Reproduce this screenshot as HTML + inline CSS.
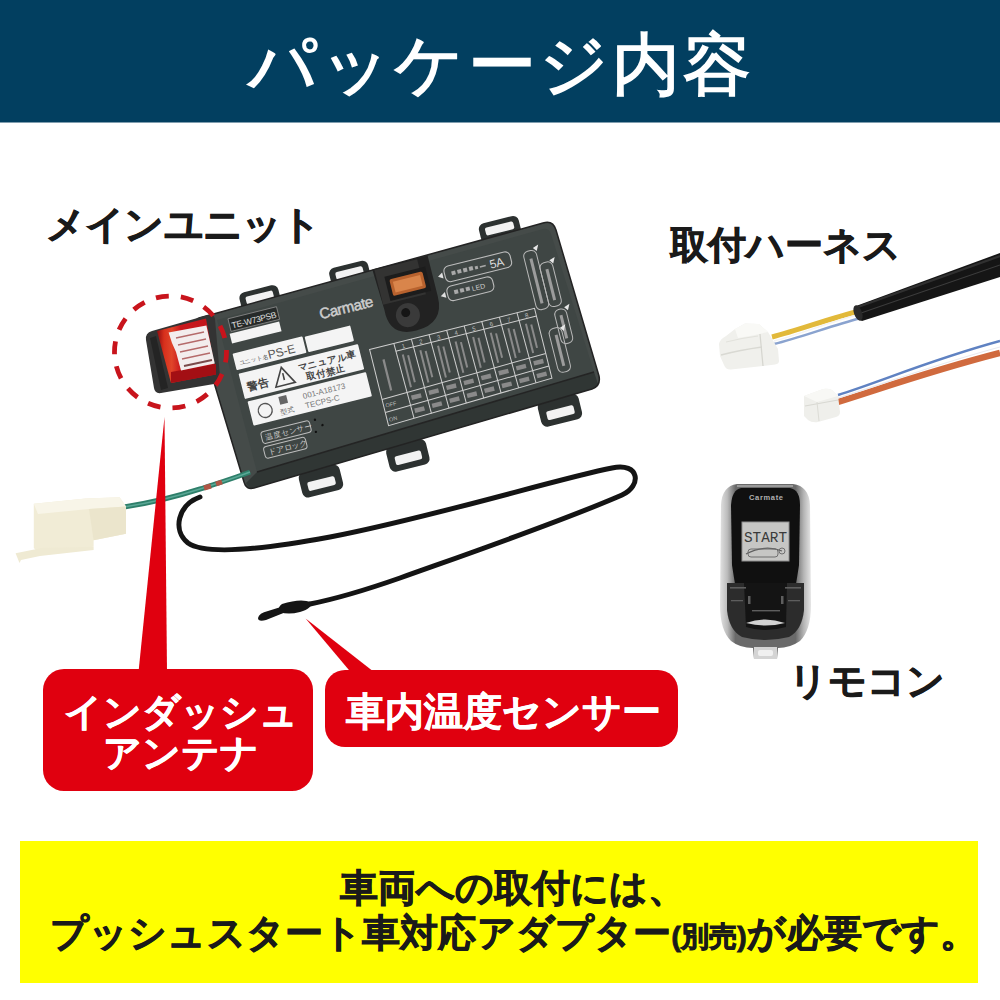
<!DOCTYPE html>
<html><head><meta charset="utf-8"><title>パッケージ内容</title>
<style>
html,body{margin:0;padding:0;width:1000px;height:1000px;overflow:hidden;background:#fff}
body{position:relative;font-family:"Liberation Sans",sans-serif}
svg{position:absolute;left:0;top:0}
.t{position:absolute;white-space:nowrap;line-height:1}
.b{font-weight:bold;color:#1a1a1a;-webkit-text-stroke:0.8px #1a1a1a}
.w{color:#fff;font-weight:bold;-webkit-text-stroke:0.5px #fff}
</style></head><body>
<svg width="1000" height="1000" viewBox="0 0 1000 1000">
<!-- header -->
<rect x="0" y="0" width="1000" height="122.5" fill="#023f60"/>

<!-- harness cable -->
<g id="harness">
  <!-- red/blue wires -->
  <path d="M838,402 C880,389 930,371 1000,353" fill="none" stroke="#d06a3e" stroke-width="6.5"/>
  <path d="M838,395 C880,382 930,360 1000,341" fill="none" stroke="#5f82c2" stroke-width="2.6"/>
  <path d="M838,398 C880,385 930,366 1000,347" fill="none" stroke="#e9e9ef" stroke-width="1.2"/>
  <!-- connector 2 -->
  <path d="M804,396 L823,389 Q828,388 832,390 L838,396 L840,412 Q840,416 836,417 L818,422 Q812,423 808,420 L804,416 Z" fill="#efefeb"/>
  <path d="M804,396 L823,389 Q828,388 832,390 L838,396 L817,402 Z" fill="#f8f8f5"/>
  <path d="M805,406 L838,400" stroke="#d8d8d2" stroke-width="1.2"/>
  <path d="M817,402 L819,421" stroke="#dcdcd6" stroke-width="1"/>
  <!-- yellow / blue wires -->
  <path d="M772,337 C800,330 830,318 860,311" fill="none" stroke="#e2b93a" stroke-width="5"/>
  <path d="M774,344 C800,338 830,326 861,318" fill="none" stroke="#8aa3cf" stroke-width="2.5"/>
  <path d="M774,341 C800,334 830,322 860,314" fill="none" stroke="#f4f4f4" stroke-width="1.3"/>
  <!-- black tube -->
  <path d="M856,306 L1000,253 L1000,277 L862,321 Q852,318 856,306 Z" fill="#151515"/>
  <path d="M858,307 L1000,256" stroke="#303030" stroke-width="2.2"/>
  <path d="M861,313 L1000,265" stroke="#3c3c3c" stroke-width="1.1"/>
  <ellipse cx="858" cy="313" rx="4" ry="8" transform="rotate(-20 858 313)" fill="#2a2a2a"/>
  <!-- connector 1 -->
  <path d="M719,344 Q720,339 726,336 L735,329 L745,323.5 L759,324 L768,332 L778,349 L779,361 Q779,364 775,364.5 L763,366 L731,369.5 Q726,370 724,365 L720,356 Z" fill="#f0f0ec"/>
  <path d="M735,329 L745,323.5 L759,324 L768,332 L750,336 L738,338 Z" fill="#f9f9f6"/>
  <path d="M721,355 Q740,350 762,347" fill="none" stroke="#d9d9d3" stroke-width="1.4"/>
  <path d="M760,334 L763,366" stroke="#d6d6d0" stroke-width="1.3"/>
  <path d="M726,342 Q742,338 758,336" fill="none" stroke="#e2e2dc" stroke-width="1"/>
</g>

<!-- main unit -->
<g id="unit">
  <!-- top tabs (global via rotated group) -->
  <g transform="translate(218,312) rotate(-14)" fill="#2c3130">
    <rect x="24" y="-13" width="40" height="20" rx="6"/>
    <rect x="117" y="-15" width="40" height="20" rx="6"/>
    <rect x="273" y="-22" width="41" height="20" rx="6"/>
    <rect x="38" y="176" width="42" height="26" rx="6"/>
    <rect x="129" y="172" width="41" height="26" rx="6"/>
    <rect x="287" y="165" width="42" height="26" rx="6"/>
  </g>
  <g transform="translate(218,312) rotate(-14)" fill="#f2f2f2">
    <rect x="30" y="-8" width="28" height="8" rx="2"/>
    <rect x="123" y="-10" width="28" height="8" rx="2"/>
    <rect x="279" y="-17" width="29" height="8" rx="2"/>
    <rect x="45" y="187" width="28" height="9" rx="2"/>
    <rect x="136" y="183" width="27" height="9" rx="2"/>
    <rect x="294" y="176" width="28" height="9" rx="2"/>
  </g>
  <path d="M199,318 L543,223 Q553,220 556,230 L599,376 Q601,386 592,389 L254,488 Q246,490 244,482 L197,326 Q195,319 199,318 Z" fill="#454b49"/>
  <path d="M217,320 L543,229 Q549,228 551,234 L594,372 L257,472 Z" fill="#3f4644"/>
  <path d="M257,472 L594,372 L598,384 Q598,387 592,389 L254,488 Q248,489 246,483 Z" fill="#303634"/>
  <path d="M257,472 L594,372" stroke="#242424" stroke-width="1.6"/>
  <path d="M199,318 L543,223 Q553,220 556,230 L599,376 Q601,386 592,389 L254,488 Q246,490 244,482 L197,326 Q195,319 199,318 Z" fill="none" stroke="#232323" stroke-width="1.5"/>
  <g transform="translate(218,312) rotate(-14)">
    <!-- labels -->
    <rect x="8" y="9" width="50" height="13" fill="#262a29" stroke="#8a8a8a" stroke-width="0.8"/>
    <text x="10" y="19.5" font-size="8.5" fill="#e0e0e0" font-family="Liberation Sans" textLength="46">TE-W73PSB</text>
    <rect x="6" y="24" width="51" height="10" fill="#f4f4f4"/>
    <rect x="4" y="44" width="72" height="17" rx="1" fill="#f4f4f4"/>
    <text x="8" y="57" font-size="6" fill="#555">ユニット名</text>
    <text x="38" y="58" font-size="12" fill="#555" font-family="Liberation Sans">PS-E</text>
    <rect x="78" y="45" width="47" height="16" rx="1" fill="#f4f4f4"/>
    <rect x="5" y="65" width="123" height="26" rx="1" fill="#f4f4f4"/>
    <text x="10" y="84" font-size="11" font-weight="bold" fill="#444">警告</text>
    <polygon points="48,69 38,87 58,87" fill="none" stroke="#444" stroke-width="1.6"/>
    <rect x="47.2" y="75" width="1.6" height="7" fill="#444"/>
    <text x="64" y="77" font-size="9.5" fill="#444" font-weight="bold">マニュアル車</text>
    <text x="70" y="88" font-size="9.5" fill="#444" font-weight="bold">取付禁止</text>
    <rect x="7" y="94" width="122" height="25" rx="1" fill="#f4f4f4"/>
    <circle cx="22" cy="107" r="7" fill="none" stroke="#555" stroke-width="1.3"/>
    <rect x="38" y="97" width="8" height="8" fill="#666"/>
    <text x="36" y="115" font-size="7" fill="#666">型式</text>
    <text x="62" y="105" font-size="8" fill="#777" font-family="Liberation Sans">001-A18173</text>
    <text x="62" y="115" font-size="8" fill="#777" font-family="Liberation Sans">TECPS-C</text>
    <!-- carmate -->
    <text x="98" y="32" font-size="15" fill="#cdcdcd" stroke="#cdcdcd" stroke-width="0.5" font-family="Liberation Sans" textLength="55">Carmate</text>
    <!-- bottom left small labels -->
    <rect x="12" y="127" width="50" height="12" rx="3" fill="none" stroke="#bdbdbd" stroke-width="1"/>
    <text x="16" y="136" font-size="7.5" fill="#cfcfcf">温度センサー</text>
    <rect x="11" y="142" width="43" height="12" rx="3" fill="none" stroke="#bdbdbd" stroke-width="1"/>
    <text x="15" y="151" font-size="8" fill="#cfcfcf">ドアロック</text>
    <circle cx="68" cy="128" r="1.2" fill="#111"/><circle cx="74" cy="135" r="1.2" fill="#111"/><circle cx="66" cy="140" r="1.2" fill="#111"/>
    <!-- fuse housing -->
    <path d="M160,-4 L217,-4 L217,38 Q217,66 188,66 Q160,66 162,38 Z" fill="#222"/>
    <rect x="162" y="-3" width="44" height="36" fill="#333332"/>
    <rect x="170" y="6" width="42" height="25" fill="#1c1c1c"/>
    <rect x="174" y="10" width="34" height="17" rx="2" fill="#b8622e"/>
    <rect x="177" y="13" width="28" height="11" fill="#d9854b"/>
    <circle cx="183.5" cy="49" r="12" fill="#3a3a3a"/>
    <circle cx="182" cy="46" r="4.5" fill="#151515"/>
    <!-- fuse label -->
    <rect x="229" y="11" width="68" height="16" rx="5" fill="none" stroke="#bcbcbc" stroke-width="1.1"/>
    <g fill="#a9a9a9"><rect x="236" y="17" width="4" height="4"/><rect x="242" y="17" width="4" height="4"/><rect x="248" y="17" width="4" height="4"/><rect x="254" y="17" width="4" height="4"/><rect x="260" y="18" width="3" height="3"/><rect x="265" y="19" width="6" height="1.5"/></g>
    <text x="275" y="24" font-size="12" fill="#dcdcdc" font-family="Liberation Sans">5A</text>
    <rect x="227" y="31" width="47" height="15" rx="5" fill="none" stroke="#bcbcbc" stroke-width="1.1"/>
    <g fill="#a9a9a9"><rect x="234" y="36" width="4" height="4"/><rect x="240" y="36" width="4" height="4"/><rect x="246" y="36" width="4" height="4"/></g>
    <text x="252" y="41.5" font-size="7" fill="#cfcfcf" font-family="Liberation Sans">LED</text>
    <polygon points="222,19 227,16 227,22" fill="#e0e0e0"/>
    <polygon points="220,38.5 225,35.5 225,41.5" fill="#e0e0e0"/>
    <!-- right vertical labels -->
    <g fill="none" stroke="#b8b8b8" stroke-width="1">
    <rect x="310" y="16" width="13" height="60" rx="5"/>
    <rect x="323" y="31" width="13" height="45" rx="5"/>
    <rect x="326" y="80" width="12" height="35" rx="5"/>
    <rect x="316" y="97" width="13" height="45" rx="5"/>
    </g>
    <g fill="#9c9c9c">
    <rect x="315" y="24" width="3" height="46"/><rect x="328" y="38" width="3" height="32"/>
    <rect x="330.5" y="86" width="3" height="24"/><rect x="321" y="104" width="3" height="32"/>
    </g>
    <g fill="#e8e8e8">
    <polygon points="321,14 327,12 324,18"/><polygon points="334,30 340,28 337,34"/>
    <polygon points="337,79 343,77 340,83"/><polygon points="328,98 334,96 331,102"/>
    </g>
    <!-- grid table -->
    <g fill="none" stroke="#cfcfcf" stroke-width="1">
      <polygon points="138,73 308,73 308,145 138,151.5"/>
      <line x1="163" y1="73" x2="164.5" y2="150.5"/>
      <line x1="181.1" y1="73" x2="182.6" y2="149.9"/>
      <line x1="199.3" y1="73" x2="200.8" y2="149.2"/>
      <line x1="217.4" y1="73" x2="218.9" y2="148.5"/>
      <line x1="235.5" y1="73" x2="237.0" y2="147.8"/>
      <line x1="253.6" y1="73" x2="255.1" y2="147.1"/>
      <line x1="271.8" y1="73" x2="273.3" y2="146.4"/>
      <line x1="289.9" y1="73" x2="291.4" y2="145.7"/>
      <line x1="163" y1="81.0" x2="308" y2="81"/>
      <line x1="138" y1="124.5" x2="308" y2="119.5"/>
      <line x1="138" y1="138.0" x2="308" y2="132.5"/>
    </g>
    <g fill="#bdbdbd" font-size="6" font-family="Liberation Sans">
      <text x="170.0" y="80">1</text>
      <text x="188.1" y="80">2</text>
      <text x="206.3" y="80">3</text>
      <text x="224.4" y="80">4</text>
      <text x="242.5" y="80">5</text>
      <text x="260.6" y="80">6</text>
      <text x="278.8" y="80">7</text>
      <text x="296.9" y="80">8</text>
      <text x="140" y="133.4" font-size="5.5">OFF</text><text x="140" y="147.9" font-size="5.5">ON</text>
    </g>
    <g fill="#8a8a8a">
      <rect x="148" y="86" width="2.2" height="32"/>
      <rect x="168.0" y="86" width="2" height="33.8"/><rect x="173.0" y="88" width="2" height="27.8"/>
      <rect x="167.0" y="127.8" width="10" height="4.5"/><rect x="167.0" y="141.2" width="10" height="4.5"/>
      <rect x="186.1" y="86" width="2" height="33.2"/><rect x="191.1" y="88" width="2" height="27.2"/>
      <rect x="185.1" y="127.2" width="10" height="4.5"/><rect x="185.1" y="140.6" width="10" height="4.5"/>
      <rect x="204.3" y="86" width="2" height="32.7"/><rect x="209.3" y="88" width="2" height="26.7"/>
      <rect x="203.3" y="126.7" width="10" height="4.5"/><rect x="203.3" y="140.0" width="10" height="4.5"/>
      <rect x="222.4" y="86" width="2" height="32.2"/><rect x="227.4" y="88" width="2" height="26.2"/>
      <rect x="221.4" y="126.2" width="10" height="4.5"/><rect x="221.4" y="139.4" width="10" height="4.5"/>
      <rect x="240.5" y="86" width="2" height="31.6"/><rect x="245.5" y="88" width="2" height="25.6"/>
      <rect x="239.5" y="125.6" width="10" height="4.5"/><rect x="239.5" y="138.8" width="10" height="4.5"/>
      <rect x="258.6" y="86" width="2" height="31.1"/><rect x="263.6" y="88" width="2" height="25.1"/>
      <rect x="257.6" y="125.1" width="10" height="4.5"/><rect x="257.6" y="138.3" width="10" height="4.5"/>
      <rect x="276.8" y="86" width="2" height="30.6"/><rect x="281.8" y="88" width="2" height="24.6"/>
      <rect x="275.8" y="124.6" width="10" height="4.5"/><rect x="275.8" y="137.7" width="10" height="4.5"/>
      <rect x="294.9" y="86" width="2" height="30.0"/><rect x="299.9" y="88" width="2" height="24.0"/>
      <rect x="293.9" y="124.0" width="10" height="4.5"/><rect x="293.9" y="137.1" width="10" height="4.5"/>
    </g>
  </g>
</g>

<!-- antenna + circle -->
<g id="antenna">
  <defs>
    <linearGradient id="antred" x1="157" y1="0" x2="216" y2="0" gradientUnits="userSpaceOnUse">
      <stop offset="0" stop-color="#8e0c10"/><stop offset="0.12" stop-color="#d8301c"/><stop offset="0.25" stop-color="#e0452a"/><stop offset="0.4" stop-color="#c9181c"/><stop offset="1" stop-color="#c0141a"/>
    </linearGradient>
  </defs>
  <path d="M146,340 Q145,333 152,331 L208,315 Q214,314 215,319 L220,377 Q220,383 214,384 L161,393 Q155,394 154,388 Z" fill="#333"/>
  <path d="M150,338 L156,336 L168,388 L161,390 Z" fill="#242424"/>
  <polygon points="157,331 206,318.6 216,374.6 171,383" fill="url(#antred)"/>
  <polygon points="171,372 216,364 216,374.6 171,383" fill="#a30f14"/>
  <polygon points="168.6,332.6 206.4,325.6 214.8,363.4 181,370.4 176,352 172,343" fill="#f3eded"/>
  <g stroke="#b56a6a" stroke-width="1.3">
    <line x1="176" y1="338" x2="204" y2="332"/><line x1="178" y1="345" x2="206" y2="339"/>
    <line x1="180" y1="352" x2="208" y2="346"/><line x1="182" y1="359" x2="210" y2="353"/>
    <line x1="184" y1="366" x2="212" y2="360" stroke="#7a4a4a" stroke-width="1.8"/>
  </g>
  <circle cx="170.5" cy="352" r="56" fill="none" stroke="#c8141c" stroke-width="4.8" stroke-dasharray="13 12.13" stroke-dashoffset="2.6"/>
</g>

<!-- sensor cable -->
<path d="M200,497 C178,505 172,530 188,543 C205,555 260,550 330,537 C430,518 560,478 612,468 C640,462 642,486 622,495 C560,522 470,553 400,578 C360,592 330,600 310,604" fill="none" stroke="#141414" stroke-width="5" stroke-linecap="round"/>
<path d="M282,604 Q300,598 311,602 Q313,608 300,612 Q288,615 280,612 Q277,607 282,604 Z" fill="#151515"/>
<path d="M258,618 Q259,613 268,611 L284,606 L286,612 L266,620 Q258,622 258,618 Z" fill="#151515"/>
<!-- green antenna wire -->
<path d="M124,507 C150,503 175,497 200,489 C215,484 232,479 250,472" fill="none" stroke="#2e7f6a" stroke-width="5"/>
<path d="M124,507 C150,503 175,497 200,489 C215,484 232,479 250,472" fill="none" stroke="#5aa896" stroke-width="1.5"/>
<path d="M204,488 L211,486 M216,484 L222,482" stroke="#b05545" stroke-width="5"/>
<!-- connector (white) -->
<polygon points="33.8,503.8 85.8,498.6 119.6,497.3 126,506.4 126,533.7 93.6,540.2 93.6,546.7 39,553.2 33.8,548" fill="#f1ecd6"/>
<polygon points="33.8,503.8 85.8,498.6 119.6,497.3 126,506.4 89,509 38,514" fill="#f8f5e8"/>
<polygon points="89,509 126,506.4 126,533.7 93.6,540.2" fill="#ebe5cc"/>
<polygon points="15.6,553.2 41.6,548 93.6,546.7 93.6,550 40,556 21,560 19.5,563" fill="#efead3"/>
<!-- remote -->
<g id="remote">
  <defs>
    <linearGradient id="rsh" x1="720" y1="0" x2="811" y2="0" gradientUnits="userSpaceOnUse">
      <stop offset="0" stop-color="#e2e2e2"/><stop offset="0.08" stop-color="#bcbcbc"/><stop offset="0.17" stop-color="#6a6a6a"/>
      <stop offset="0.83" stop-color="#6a6a6a"/><stop offset="0.92" stop-color="#b5b5b5"/><stop offset="1" stop-color="#e6e6e6"/>
    </linearGradient>
    <linearGradient id="rlip" x1="0" y1="620" x2="0" y2="648" gradientUnits="userSpaceOnUse">
      <stop offset="0" stop-color="#5a5a5a"/><stop offset="0.5" stop-color="#a0a0a0"/><stop offset="1" stop-color="#d6d6d6"/>
    </linearGradient>
  </defs>
  <path d="M737,484 L793,484 Q809,486 810,505 L811,605 Q811,630 800,641 Q790,648 778,648 L777,659 L754,659 L753,648 Q740,648 731,641 Q720,630 720,605 L721,505 Q722,486 737,484 Z" fill="url(#rsh)"/>
  <path d="M737,486 L793,486" stroke="#9a9a9a" stroke-width="2"/>
  <path d="M741,488 L790,488 Q800,490 800,505 L799,565 Q796,585 793,600 L738,600 Q735,585 732,565 L731,505 Q732,490 741,488 Z" fill="#101010"/>
  <path d="M727,583 L804,583 L804,610 Q802,630 789,637 Q765,643 742,637 Q729,630 727,610 Z" fill="#2c2c2c"/>
  <path d="M744,583 L787,583 L786,627 Q765,633 746,627 Z" fill="#141414"/>
  <g fill="#5e5e5e"><rect x="730" y="587" width="16" height="1.6"/><rect x="785" y="587" width="16" height="1.6"/><rect x="752" y="610" width="28" height="1.4"/><rect x="748" y="596" width="2.5" height="8"/><rect x="781" y="596" width="2.5" height="8"/><rect x="731" y="600" width="12" height="1.3"/><rect x="788" y="600" width="12" height="1.3"/></g>
  <path d="M746,623 Q765,616 785,623 Q765,628 746,623 Z" fill="#d2d2d2"/>
  <rect x="742" y="522" width="47" height="39" fill="#c6c6c4"/>
  <rect x="742" y="522" width="47" height="39" fill="none" stroke="#8f8f8f" stroke-width="1"/>
  <text x="744" y="542" font-size="15" fill="#3a3a3a" font-family="Liberation Mono" textLength="43" lengthAdjust="spacingAndGlyphs">START</text>
  <path d="M746,554 Q765,544 782,551" fill="none" stroke="#5f5f5f" stroke-width="1.2"/>
  <rect x="748" y="549" width="30" height="8" rx="3" fill="none" stroke="#6f6f6f" stroke-width="1"/>
  <circle cx="782" cy="551" r="3" fill="none" stroke="#6f6f6f" stroke-width="1"/>
  <text x="749" y="500" font-size="7.5" font-weight="bold" fill="#b0b0b0" font-family="Liberation Sans" textLength="34">Carmate</text>
  <path d="M754,647 L777,647 L777,659 L754,659 Z" fill="#d4d4d4"/>
  <rect x="758" y="650" width="15" height="6" rx="2" fill="#f0f0f0"/>
</g>

<!-- callouts -->
<polygon points="164.5,417 138.5,672 167,672" fill="#e0000f"/>
<rect x="43" y="669" width="270" height="122" rx="21" fill="#e0000f"/>
<polygon points="305.6,618.6 350.6,672 374,672" fill="#e0000f"/>
<rect x="325" y="670" width="353" height="77" rx="20" fill="#e0000f"/>

<!-- banner -->
<rect x="20" y="841" width="958" height="142" fill="#ffff00"/>
</svg>

<div class="t" style="left:248px;top:30px;font-size:68px;color:#fff;letter-spacing:3.2px;-webkit-text-stroke:1.6px #fff">パッケージ内容</div>
<div class="t b" style="left:46px;top:205px;font-size:39px;letter-spacing:-0.8px">メインユニット</div>
<div class="t b" style="left:670px;top:226px;font-size:38px">取付ハーネス</div>
<div class="t b" style="left:789px;top:662px;font-size:38px">リモコン</div>
<div class="t w" style="left:64px;top:693px;font-size:38px">インダッシュ</div>
<div class="t w" style="left:103px;top:734px;font-size:38px">アンテナ</div>
<div class="t w" style="left:346px;top:692px;font-size:39px">車内温度センサー</div>
<div class="t b" style="left:340px;top:869px;font-size:38px">車両への取付には、</div>
<div class="t b" style="left:50px;top:914px;font-size:38px;letter-spacing:0.15px">プッシュスタート車対応アダプター<span style="font-size:28px;-webkit-text-stroke-width:1px">(別売)</span>が必要です。</div>
</body></html>
